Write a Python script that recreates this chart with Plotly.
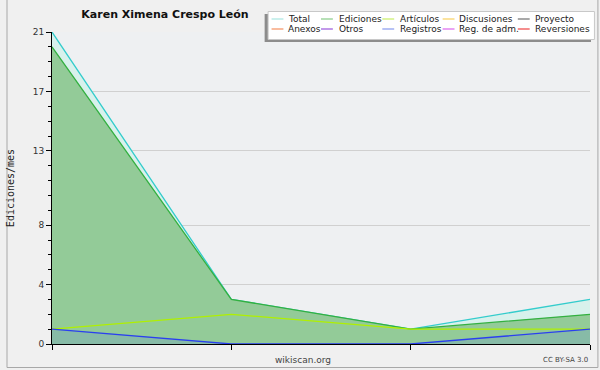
import plotly.graph_objects as go

# Data
months = [0, 1, 2, 3]
total = [21, 3, 1, 3]
ediciones = [20, 3, 1, 2]
articulos = [1, 2, 1, 1]
registros = [1, 0, 0, 1]
y_ticks = [0, 4, 8, 13, 17, 21]

legend_names = ["Total", "Ediciones", "Artículos", "Discusiones", "Proyecto",
                "Anexos", "Otros", "Registros", "Reg. de adm.", "Reversiones"]
legend_colors = ["#a8e6e2", "#88cc88", "#c8ee66", "#f8d060", "#707070",
                 "#f59060", "#9955dd", "#8899ee", "#dd66ee", "#ee4444"]

W, H = 600, 370
L, R, T, B = 46, 10, 32, 26
pw, ph = W - L - R, H - T - B

def px(x):
    return (x - L) / pw

def py(y):
    return (H - B - y) / ph

fig = go.Figure()

fig.add_trace(go.Scatter(x=months, y=total, mode="lines", name="Total",
                         line=dict(color="#33cccc", width=1.3), fill="tozeroy",
                         fillcolor="#d8f1ec"))
fig.add_trace(go.Scatter(x=months, y=ediciones, mode="lines", name="Ediciones",
                         line=dict(color="#33b040", width=1.3), fill="tozeroy",
                         fillcolor="#93cb98"))
fig.add_trace(go.Scatter(x=months, y=articulos, mode="lines", name="Artículos",
                         line=dict(color="#b0f000", width=1.3)))
fig.add_trace(go.Scatter(x=months, y=registros, mode="lines", name="Registros",
                         line=dict(color="#2a3ff0", width=1.3), fill="tozeroy",
                         fillcolor="rgba(92,123,232,0.2)"))

shapes = [
    dict(type="rect", xref="paper", yref="paper", x0=px(0.5), x1=px(598), y0=py(367.5), y1=py(-2),
         line=dict(color="#a8a8a8", width=1), fillcolor="rgba(0,0,0,0)", layer="below"),
    # legend shadow and box
    dict(type="rect", xref="paper", yref="paper", x0=px(261), x1=px(591), y0=py(42), y1=py(14),
         line=dict(width=0), fillcolor="#8c8c8c", layer="above"),
    dict(type="rect", xref="paper", yref="paper", x0=px(264.5), x1=px(594.5), y0=py(39.5), y1=py(11.5),
         line=dict(color="#c8c8c8", width=1), fillcolor="white", layer="above"),
]
annotations = [
    dict(text="wikiscan.org", xref="paper", yref="paper", x=px(300), y=py(360),
         xanchor="center", yanchor="middle", showarrow=False,
         font=dict(size=9, color="#444")),
    dict(text="CC BY-SA 3.0", xref="paper", yref="paper", x=px(590), y=py(360),
         xanchor="right", yanchor="middle", showarrow=False,
         font=dict(size=7, color="#444")),
]

col_sym = [268, 318, 380, 441, 517]
col_txt = [284, 335, 397, 457, 533]
row_y = [19, 29]
for i, (name, col) in enumerate(zip(legend_names, legend_colors)):
    r, c = divmod(i, 5)
    yy = py(row_y[r])
    shapes.append(dict(type="line", xref="paper", yref="paper",
                       x0=px(col_sym[c]), x1=px(col_sym[c] + 12), y0=yy, y1=yy,
                       line=dict(color=col, width=1.2), layer="above"))
    annotations.append(dict(text=name, xref="paper", yref="paper", x=px(col_txt[c] - 1), y=yy,
                            xanchor="left", yanchor="middle", showarrow=False,
                            font=dict(size=9, color="#222", family="DejaVu Sans")))

fig.update_layout(
    width=W, height=H,
    margin=dict(l=L, r=R, t=T, b=B),
    paper_bgcolor="#f0f0f0",
    plot_bgcolor="#eef0f2",
    font=dict(family="DejaVu Sans", size=10, color="#222"),
    title=dict(text="<b>Karen Ximena Crespo León</b>", x=165 / W, xanchor="center",
               y=1 - 14 / H, yanchor="middle", font=dict(size=11, color="#111")),
    showlegend=False,
    xaxis=dict(range=[0, 3], showgrid=False, zeroline=False, showline=True,
               linecolor="black", linewidth=1, ticks="outside", ticklen=5,
               tickcolor="black", tickvals=months, showticklabels=False, fixedrange=True),
    yaxis=dict(range=[0, 21], tickvals=y_ticks, showgrid=True, gridcolor="#d0d0d0",
               gridwidth=1, zeroline=False, showline=True, linecolor="black",
               linewidth=1, ticks="outside", ticklen=5, tickcolor="black",
               tickfont=dict(size=9, color="#333"),
               minor=dict(tickvals=list(range(22)), ticks="outside", ticklen=3,
                          tickcolor="black", showgrid=False),
               title=dict(text="Ediciones/mes", font=dict(size=10, family="DejaVu Sans Mono", color="#222"),
                          standoff=16)),
    shapes=shapes,
    annotations=annotations,
)

fig.write_html("out.html", config={"displayModeBar": False},
               post_script="document.body.style.margin='0';")
